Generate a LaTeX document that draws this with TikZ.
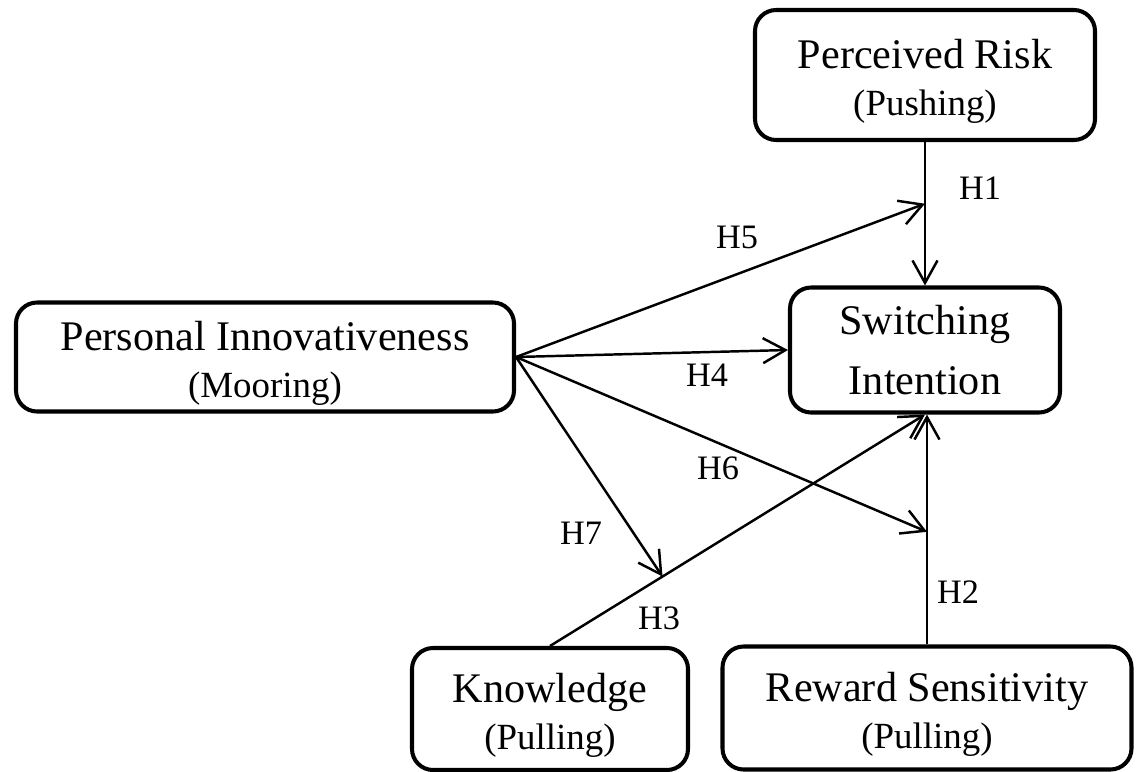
\documentclass[tikz,border=0pt]{standalone}
\usepackage{fontspec}
\setmainfont{Liberation Serif}
\usepackage{tikz}
\usetikzlibrary{arrows.meta, positioning, calc}
\newcommand{\mainline}{\fontsize{24}{28}\selectfont}
\newcommand{\subline}{\fontsize{21}{25}\selectfont}
\newcommand{\headstrut}{\rule{0pt}{24pt}}
\tikzset{
  construct/.style={draw, line width=2.3pt, rounded corners=12pt, align=center, inner sep=0pt, font=\mainline},
  link/.style={line width=1.4pt, -{Straight Barb[length=4.5mm, width=5mm]}},
  hyp/.style={inner sep=0pt, font=\fontsize{19.5}{22}\selectfont}
}

\begin{document}
\begin{tikzpicture}
  \useasboundingbox (0,0) rectangle (22.74,-15.44);

  % Constructs
  \node[construct, minimum width=6.8cm, minimum height=2.6cm] (risk) at (18.5,-1.5) {\headstrut Perceived Risk\\[-1pt]\subline (Pushing)};
  \node[construct, minimum width=5.4cm, minimum height=2.5cm] (si) at (18.5,-7.0) {Switching\\[6pt]Intention};
  \node[construct, minimum width=9.96cm, minimum height=2.18cm] (pi) at (5.3,-7.14) {\headstrut Personal Innovativeness\\[-1pt]\subline (Mooring)};
  \node[construct, minimum width=5.52cm, minimum height=2.44cm] (know) at (11.0,-14.18) {\headstrut Knowledge\\[-1pt]\subline (Pulling)};
  \node[construct, minimum width=8.18cm, minimum height=2.46cm] (reward) at (18.54,-14.16) {\headstrut Reward Sensitivity\\[-1pt]\subline (Pulling)};

  % Points on the direct paths
  \coordinate (h1pt) at ($(risk.south)!0.43!(si.north)$);
  \coordinate (h2pt) at ($(reward.north)!0.49!(reward.north |- si.south)$);
  \coordinate (h3pt) at ($(know.north)!0.3!(si.south)$);

  % Direct effects
  \draw[link] (risk.south) -- (si.north);
  \draw[link] (reward.north) -- (reward.north |- si.south);
  \draw[link] (know.north) -- (si.south);
  \draw[link] (pi.east) -- (si.west);

  % Moderating effects
  \draw[link] (pi.east) -- (h1pt);
  \draw[link] (pi.east) -- (h2pt);
  \draw[link] (pi.east) -- (h3pt);

  % Hypotheses
  \node[hyp] (lh1) at (19.6,-3.76) {H1};
  \node[hyp] (lh2) at (19.16,-11.84) {H2};
  \node[hyp] (lh3) at (13.18,-12.36) {H3};
  \node[hyp] (lh4) at (14.14,-7.5) {H4};
  \node[hyp] (lh5) at (14.74,-4.74) {H5};
  \node[hyp] (lh6) at (14.36,-9.36) {H6};
  \node[hyp] (lh7) at (11.62,-10.66) {H7};
\end{tikzpicture}
\end{document}
